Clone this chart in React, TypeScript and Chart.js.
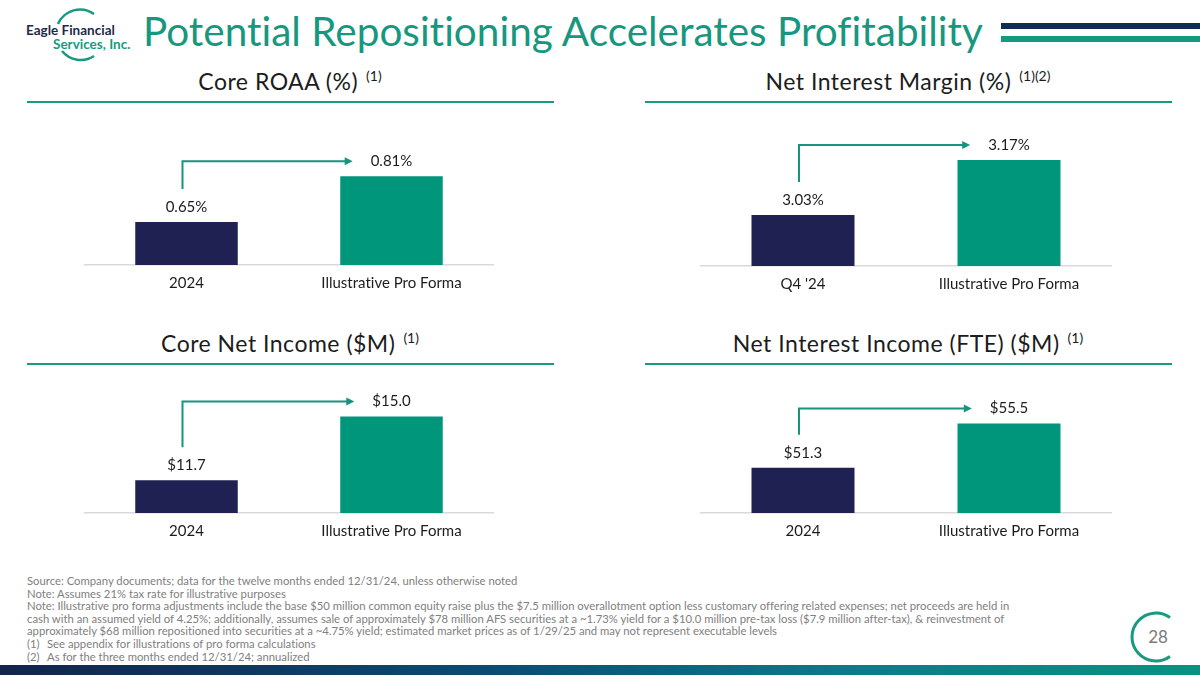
import React, { useEffect, useRef } from "react";
import { Chart, registerables } from "chart.js";

Chart.register(...registerables);

const FONT = "Lato, 'Open Sans', sans-serif";
const NAVY = "#1f2152";
const TEAL = "#00967c";
const ARROW = "#17937f";
const TEXT = "#1c1c1c";

// ---------- data ----------
const roaaCategories = ["2024", "Illustrative Pro Forma"];
const roaaValues = [0.65, 0.81];
const roaaAxis = [0.5, 1.0];

const nimCategories = ["Q4 '24", "Illustrative Pro Forma"];
const nimValues = [3.03, 3.17];
const nimAxis = [2.9, 3.3];

const netIncomeCategories = ["2024", "Illustrative Pro Forma"];
const netIncomeValues = [11.7, 15.0];
const netIncomeAxis = [10, 17];

const niiCategories = ["2024", "Illustrative Pro Forma"];
const niiValues = [51.3, 55.5];
const niiAxis = [47, 60];

const footnotes = [
  "Source: Company documents; data for the twelve months ended 12/31/24, unless otherwise noted",
  "Note: Assumes 21% tax rate for illustrative purposes",
  "Note: Illustrative pro forma adjustments include the base $50 million common equity raise plus the $7.5 million overallotment option less customary offering related expenses; net proceeds are held in",
  "cash with an assumed yield of 4.25%; additionally, assumes sale of approximately $78 million AFS securities at a ~1.73% yield for a $10.0 million pre-tax loss ($7.9 million after-tax), & reinvestment of",
  "approximately $68 million repositioned into securities at a ~4.75% yield; estimated market prices as of 1/29/25 and may not represent executable levels",
];
const numberedNotes = [
  ["(1)", "See appendix for illustrations of pro forma calculations"],
  ["(2)", "As for the three months ended 12/31/24; annualized"],
];

const pct = (v: number) => v.toFixed(2) + "%";
const usd = (v: number) => "$" + v.toFixed(1);

// ---------- plugin: value labels + connector arrow ----------
const labelArrowPlugin = {
  id: "labelArrow",
  afterDatasetsDraw(chart: any, _args: any, opts: any) {
    const ctx = chart.ctx;
    const meta = chart.getDatasetMeta(0);
    const ds = chart.data.datasets[0];
    const fmt = opts.format as (v: number) => string;
    ctx.save();
    ctx.font = `15px ${FONT}`;
    ctx.fillStyle = TEXT;
    ctx.textAlign = "center";
    ctx.textBaseline = "middle";
    meta.data.forEach((bar: any, i: number) => {
      ctx.fillText(fmt(ds.data[i]), bar.x, bar.y - opts.labelGap);
    });
    const b0 = meta.data[0];
    const b1 = meta.data[1];
    const w1 = ctx.measureText(fmt(ds.data[1])).width;
    const x0 = b0.x - 4;
    const yStart = b0.y - opts.arrowGap;
    const yLine = b1.y - opts.labelGap;
    const xTip = b1.x - w1 / 2 - 18;
    ctx.strokeStyle = ARROW;
    ctx.lineWidth = 2;
    ctx.beginPath();
    ctx.moveTo(x0, yStart);
    ctx.lineTo(x0, yLine);
    ctx.lineTo(xTip - 6, yLine);
    ctx.stroke();
    ctx.fillStyle = ARROW;
    ctx.beginPath();
    ctx.moveTo(xTip, yLine);
    ctx.lineTo(xTip - 8, yLine - 4);
    ctx.lineTo(xTip - 8, yLine + 4);
    ctx.closePath();
    ctx.fill();
    ctx.restore();
  },
};

function makeConfig(categories: string[], values: number[], axis: number[], fmt: (v: number) => string) {
  return {
    type: "bar" as const,
    data: {
      labels: categories,
      datasets: [
        {
          data: values,
          backgroundColor: [NAVY, TEAL],
          barPercentage: 0.5,
          categoryPercentage: 1,
          borderWidth: 0,
        },
      ],
    },
    options: {
      animation: false as const,
      responsive: false,
      maintainAspectRatio: false,
      layout: { padding: 0 },
      plugins: {
        legend: { display: false },
        tooltip: { enabled: false },
        labelArrow: { format: fmt, labelGap: 15, arrowGap: 33 },
      },
      scales: {
        x: {
          grid: { display: false, drawTicks: false },
          border: { display: true, color: "#d9d9d9", width: 1.5 },
          ticks: {
            color: TEXT,
            font: { family: FONT, size: 15, lineHeight: 1.2 },
            padding: 9,
            maxRotation: 0,
            autoSkip: false,
          },
        },
        y: { display: false, min: axis[0], max: axis[1] },
      },
    },
    plugins: [labelArrowPlugin],
  };
}

const AXIS_H = 37;

function BarPanel(props: { left: number; width: number; plotTop: number; baseline: number; config: any }) {
  const ref = useRef<HTMLCanvasElement | null>(null);
  const height = props.baseline - props.plotTop + AXIS_H;
  useEffect(() => {
    if (!ref.current) return;
    const chart = new Chart(ref.current, props.config);
    return () => chart.destroy();
  }, []);
  return (
    <canvas
      ref={ref}
      width={props.width}
      height={height}
      style={{ position: "absolute", left: props.left, top: props.plotTop, width: props.width, height }}
    />
  );
}

function SectionTitle(props: { center: number; top: number; text: string; sup: string }) {
  return (
    <div
      style={{
        position: "absolute",
        left: props.center - 300,
        width: 600,
        top: props.top,
        textAlign: "center",
        fontSize: 23,
        lineHeight: "23px",
        letterSpacing: 0.5,
        color: TEXT,
        whiteSpace: "nowrap",
        fontVariantLigatures: "none",
      }}
    >
      {props.text}
      <span style={{ fontSize: 14, position: "relative", top: -9, marginLeft: 8, letterSpacing: 0 }}>{props.sup}</span>
    </div>
  );
}

function Rule(props: { left: number; top: number; width: number }) {
  return (
    <div style={{ position: "absolute", left: props.left, top: props.top, width: props.width, height: 2, background: "#169a80" }} />
  );
}

export default function App() {
  useEffect(() => {
    document.body.style.margin = "0";
  }, []);

  const cfgRoaa = makeConfig(roaaCategories, roaaValues, roaaAxis, pct);
  const cfgNim = makeConfig(nimCategories, nimValues, nimAxis, pct);
  const cfgNi = makeConfig(netIncomeCategories, netIncomeValues, netIncomeAxis, usd);
  const cfgNii = makeConfig(niiCategories, niiValues, niiAxis, usd);

  return (
    <div
      style={{
        position: "absolute",
        left: 0,
        top: 0,
        width: 1200,
        height: 675,
        overflow: "hidden",
        background: "#ffffff",
        fontFamily: FONT,
        fontVariantLigatures: "none",
      }}
    >
      {/* logo */}
      <svg style={{ position: "absolute", left: 0, top: 0 }} width={140} height={70}>
        <path d="M 58 24 A 24 24 0 0 1 94 14" fill="none" stroke="#179a80" strokeWidth={2.5} />
        <path d="M 94 56 A 24 24 0 0 1 62 51" fill="none" stroke="#179a80" strokeWidth={2.5} />
        <text x={26} y={35} fontFamily={FONT} fontWeight={700} fontSize={13.5} fill="#1d2a48">
          Eagle Financial
        </text>
        <text x={53} y={48.5} fontFamily={FONT} fontWeight={700} fontSize={13.5} fill="#179a80">
          Services, Inc.
        </text>
      </svg>

      {/* title */}
      <div
        style={{
          position: "absolute",
          left: 143,
          top: 11,
          fontSize: 40.5,
          lineHeight: "40.5px",
          color: "#17977f",
          whiteSpace: "nowrap",
        }}
      >
        Potential Repositioning Accelerates Profitability
      </div>
      <div style={{ position: "absolute", left: 1001, top: 23, width: 199, height: 6, background: "#0d2d55" }} />
      <div style={{ position: "absolute", left: 1001, top: 36, width: 199, height: 6, background: "#159a82" }} />

      {/* section titles */}
      <SectionTitle center={290} top={70} text="Core ROAA (%)" sup="(1)" />
      <SectionTitle center={908} top={70} text="Net Interest Margin (%)" sup="(1)(2)" />
      <SectionTitle center={290} top={332} text="Core Net Income ($M)" sup="(1)" />
      <SectionTitle center={908} top={332} text="Net Interest Income (FTE) ($M)" sup="(1)" />
      <Rule left={27} top={101} width={527} />
      <Rule left={645} top={101} width={527} />
      <Rule left={27} top={363} width={527} />
      <Rule left={645} top={363} width={527} />

      {/* charts */}
      <BarPanel left={84} width={410} plotTop={122} baseline={264} config={cfgRoaa} />
      <BarPanel left={700} width={412} plotTop={109} baseline={265} config={cfgNim} />
      <BarPanel left={84} width={410} plotTop={378} baseline={512} config={cfgNi} />
      <BarPanel left={700} width={412} plotTop={376} baseline={512} config={cfgNii} />

      {/* footnotes */}
      <div
        style={{
          position: "absolute",
          left: 27,
          top: 575,
          fontSize: 11.3,
          lineHeight: "12.6px",
          color: "#808080",
          whiteSpace: "nowrap",
        }}
      >
        {footnotes.map((t, i) => (
          <div key={i}>{t}</div>
        ))}
        {numberedNotes.map((n, i) => (
          <div key={"n" + i}>
            <span style={{ display: "inline-block", width: 20 }}>{n[0]}</span>
            {n[1]}
          </div>
        ))}
      </div>

      {/* page number */}
      <svg style={{ position: "absolute", left: 1112, top: 590 }} width={88} height={75}>
        <path d="M 58 27.5 A 24 24 0 1 0 58 66.5" fill="none" stroke="#179a80" strokeWidth={3} />
        <text x={46} y={53} textAnchor="middle" fontFamily={FONT} fontSize={17} fill="#7a7a7a">
          28
        </text>
      </svg>

      {/* bottom bar */}
      <div
        style={{
          position: "absolute",
          left: 0,
          top: 665,
          width: 1200,
          height: 10,
          background: "linear-gradient(90deg, #13244a 0%, #0c4a70 40%, #0a7b88 70%, #07937f 100%)",
        }}
      />
    </div>
  );
}
